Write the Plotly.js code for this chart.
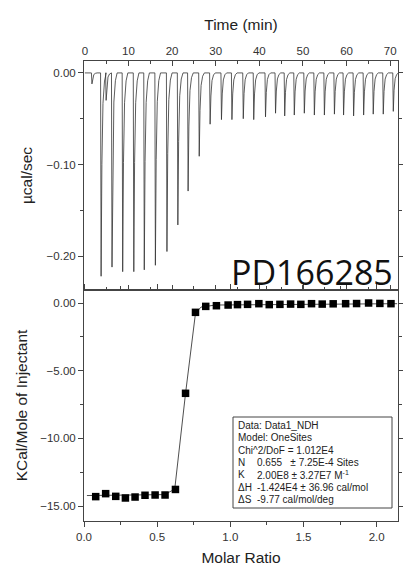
<!DOCTYPE html>
<html><head><meta charset="utf-8">
<script src="https://cdn.plot.ly/plotly-3.0.1.min.js"></script>
<style>html,body{margin:0;padding:0;background:#fff}#c{width:403px;height:573px}</style>
</head><body><div id="c"></div>
<script>
// Raw thermogram: injection times (min) and peak depths (µcal/sec)
const injTime = [1.5, 3.6, 4.75, 6.1, 8.55, 11.1, 13.5, 16.05, 18.7, 21.2, 23.55, 26.1, 28.6, 31.2, 33.6, 36.2, 38.6, 41.3, 43.6, 45.7, 47.9, 50.2, 52.5, 54.8, 57.1, 59.2, 61.5, 63.8, 66.0, 68.3, 70.6];
const peakDepth = [-0.012, -0.222, -0.030, -0.212, -0.217, -0.217, -0.215, -0.210, -0.195, -0.166, -0.129, -0.091, -0.056, -0.051, -0.051, -0.050, -0.051, -0.048, -0.044, -0.047, -0.046, -0.044, -0.046, -0.046, -0.045, -0.046, -0.047, -0.046, -0.045, -0.045, -0.042];
// Integrated heats
const molarRatio = [0.080, 0.148, 0.217, 0.283, 0.349, 0.417, 0.486, 0.554, 0.625, 0.694, 0.762, 0.832, 0.905, 0.985, 1.049, 1.118, 1.195, 1.266, 1.339, 1.412, 1.482, 1.555, 1.628, 1.703, 1.788, 1.863, 1.945, 2.022, 2.098];
const heat = [-14.3, -14.08, -14.28, -14.4, -14.33, -14.2, -14.18, -14.18, -13.77, -6.67, -0.69, -0.25, -0.2, -0.15, -0.12, -0.1, -0.05, -0.12, -0.1, -0.08, -0.1, -0.05, -0.08, -0.06, -0.05, -0.04, 0.0, -0.03, -0.05];
// Fit curve
const fitX = [0.02, 0.55, 0.62, 0.694, 0.762, 0.80, 0.90, 2.14];
const fitY = [-14.22, -14.15, -13.75, -6.67, -0.75, -0.3, -0.15, -0.05];
// Fit parameters box
const boxLines = ["Data: Data1_NDH", "Model: OneSites", "Chi^2/DoF = 1.012E4"];
const parLabels = ["N", "K", "ΔH", "ΔS"];
const parValues = ["0.655   ± 7.25E-4 Sites", "2.00E8 ± 3.27E7 M<sup>-1</sup>", "-1.424E4 ± 36.96 cal/mol", "-9.77 cal/mol/deg"];
const sampleName = "PD166285";

// build thermogram polyline from the peak table (shape of each spike)
const shapeDt = [0, 0.12, 0.3, 0.55, 0.9, 1.3];
const shapeFr = [0, 1, 0.45, 0.15, 0.04, 0];
const tx = [0], ty = [0];
injTime.forEach((t, i) => {
  shapeDt.forEach((d, k) => { tx.push(t + d); ty.push(peakDepth[i] * shapeFr[k]); });
});
tx.push(71.8); ty.push(0);

const W = 403, H = 573;
const L = 84, R = 398, T = 61, B = 521;
const px = x => (x - L) / (R - L);
const py = y => (B - y) / (B - T);
const split = py(290);

const tickFont = {family: 'Liberation Sans, Arial', size: 11.5, color: '#333'};
const titleFont = {family: 'Liberation Sans, Arial', size: 15.5, color: '#222'};
const boxFont = {family: 'Liberation Sans, Arial', size: 10, color: '#222'};
const axCommon = {showline: true, linecolor: '#444', linewidth: 1, mirror: 'ticks', ticks: 'outside', ticklen: 5, tickcolor: '#444', showgrid: false, zeroline: false, tickfont: tickFont};

const data = [
  {x: tx, y: ty, xaxis: 'x2', yaxis: 'y2', mode: 'lines', line: {color: '#333', width: 0.8}, hoverinfo: 'skip'},
  {x: fitX, y: fitY, xaxis: 'x', yaxis: 'y', mode: 'lines', line: {color: '#222', width: 0.8}},
  {x: molarRatio, y: heat, xaxis: 'x', yaxis: 'y', mode: 'markers', marker: {symbol: 'square', size: 7.5, color: '#000'}}
];

const ann = [];
boxLines.forEach((s, i) => ann.push({xref: 'paper', yref: 'paper', x: px(236), y: py(425.5 + i * 12.3), text: s, showarrow: false, xanchor: 'left', yanchor: 'middle', font: boxFont}));
parLabels.forEach((s, i) => {
  ann.push({xref: 'paper', yref: 'paper', x: px(236), y: py(462.6 + i * 12.3), text: s, showarrow: false, xanchor: 'left', yanchor: 'middle', font: boxFont});
  ann.push({xref: 'paper', yref: 'paper', x: px(255), y: py(462.6 + i * 12.3), text: parValues[i], showarrow: false, xanchor: 'left', yanchor: 'middle', font: boxFont});
});
ann.push({xref: 'paper', yref: 'paper', x: px(395), y: py(297), text: sampleName, showarrow: false, xanchor: 'right', yanchor: 'bottom', font: {family: 'Open Sans', size: 34, color: '#111'}});

const layout = {
  width: W, height: H,
  margin: {l: L, r: W - R, t: T, b: H - B, pad: 0},
  paper_bgcolor: '#fff', plot_bgcolor: '#fff',
  showlegend: false,
  xaxis: Object.assign({}, axCommon, {domain: [0, 1], anchor: 'y', range: [0, 2.146], dtick: 0.5, tick0: 0, tickformat: '.1f',
    minor: {dtick: 0.25, ticks: 'outside', ticklen: 3, tickcolor: '#444'},
    title: {text: 'Molar Ratio', font: titleFont, standoff: 10}}),
  yaxis: Object.assign({}, axCommon, {domain: [0, split], anchor: 'x', range: [-16.1, 0.96], dtick: 5, tick0: 0, tickformat: '.2f',
    minor: {dtick: 2.5, ticks: 'outside', ticklen: 3, tickcolor: '#444'},
    title: {text: 'KCal/Mole of Injectant', font: titleFont, standoff: 8}}),
  xaxis2: Object.assign({}, axCommon, {domain: [0, 1], anchor: 'y2', side: 'top', range: [-0.2, 71.8], dtick: 10, tick0: 0, ticks: 'inside',
    minor: {dtick: 5, ticks: 'inside', ticklen: 3, tickcolor: '#444'},
    title: {text: 'Time (min)', font: titleFont, standoff: 10}}),
  yaxis2: Object.assign({}, axCommon, {domain: [split, 1], anchor: 'x2', range: [-0.237, 0.013], dtick: 0.1, tick0: 0, tickformat: '.2f',
    minor: {dtick: 0.05, ticks: 'outside', ticklen: 3, tickcolor: '#444'},
    title: {text: 'µcal/sec', font: titleFont, standoff: 10}}),
  shapes: [
    {type: 'rect', xref: 'paper', yref: 'paper', x0: px(233), x1: px(392), y0: py(508), y1: py(417), line: {color: '#444', width: 1}, fillcolor: '#fff'}
  ],
  annotations: ann
};
Plotly.newPlot('c', data, layout, {staticPlot: true, displayModeBar: false});
</script></body></html>
